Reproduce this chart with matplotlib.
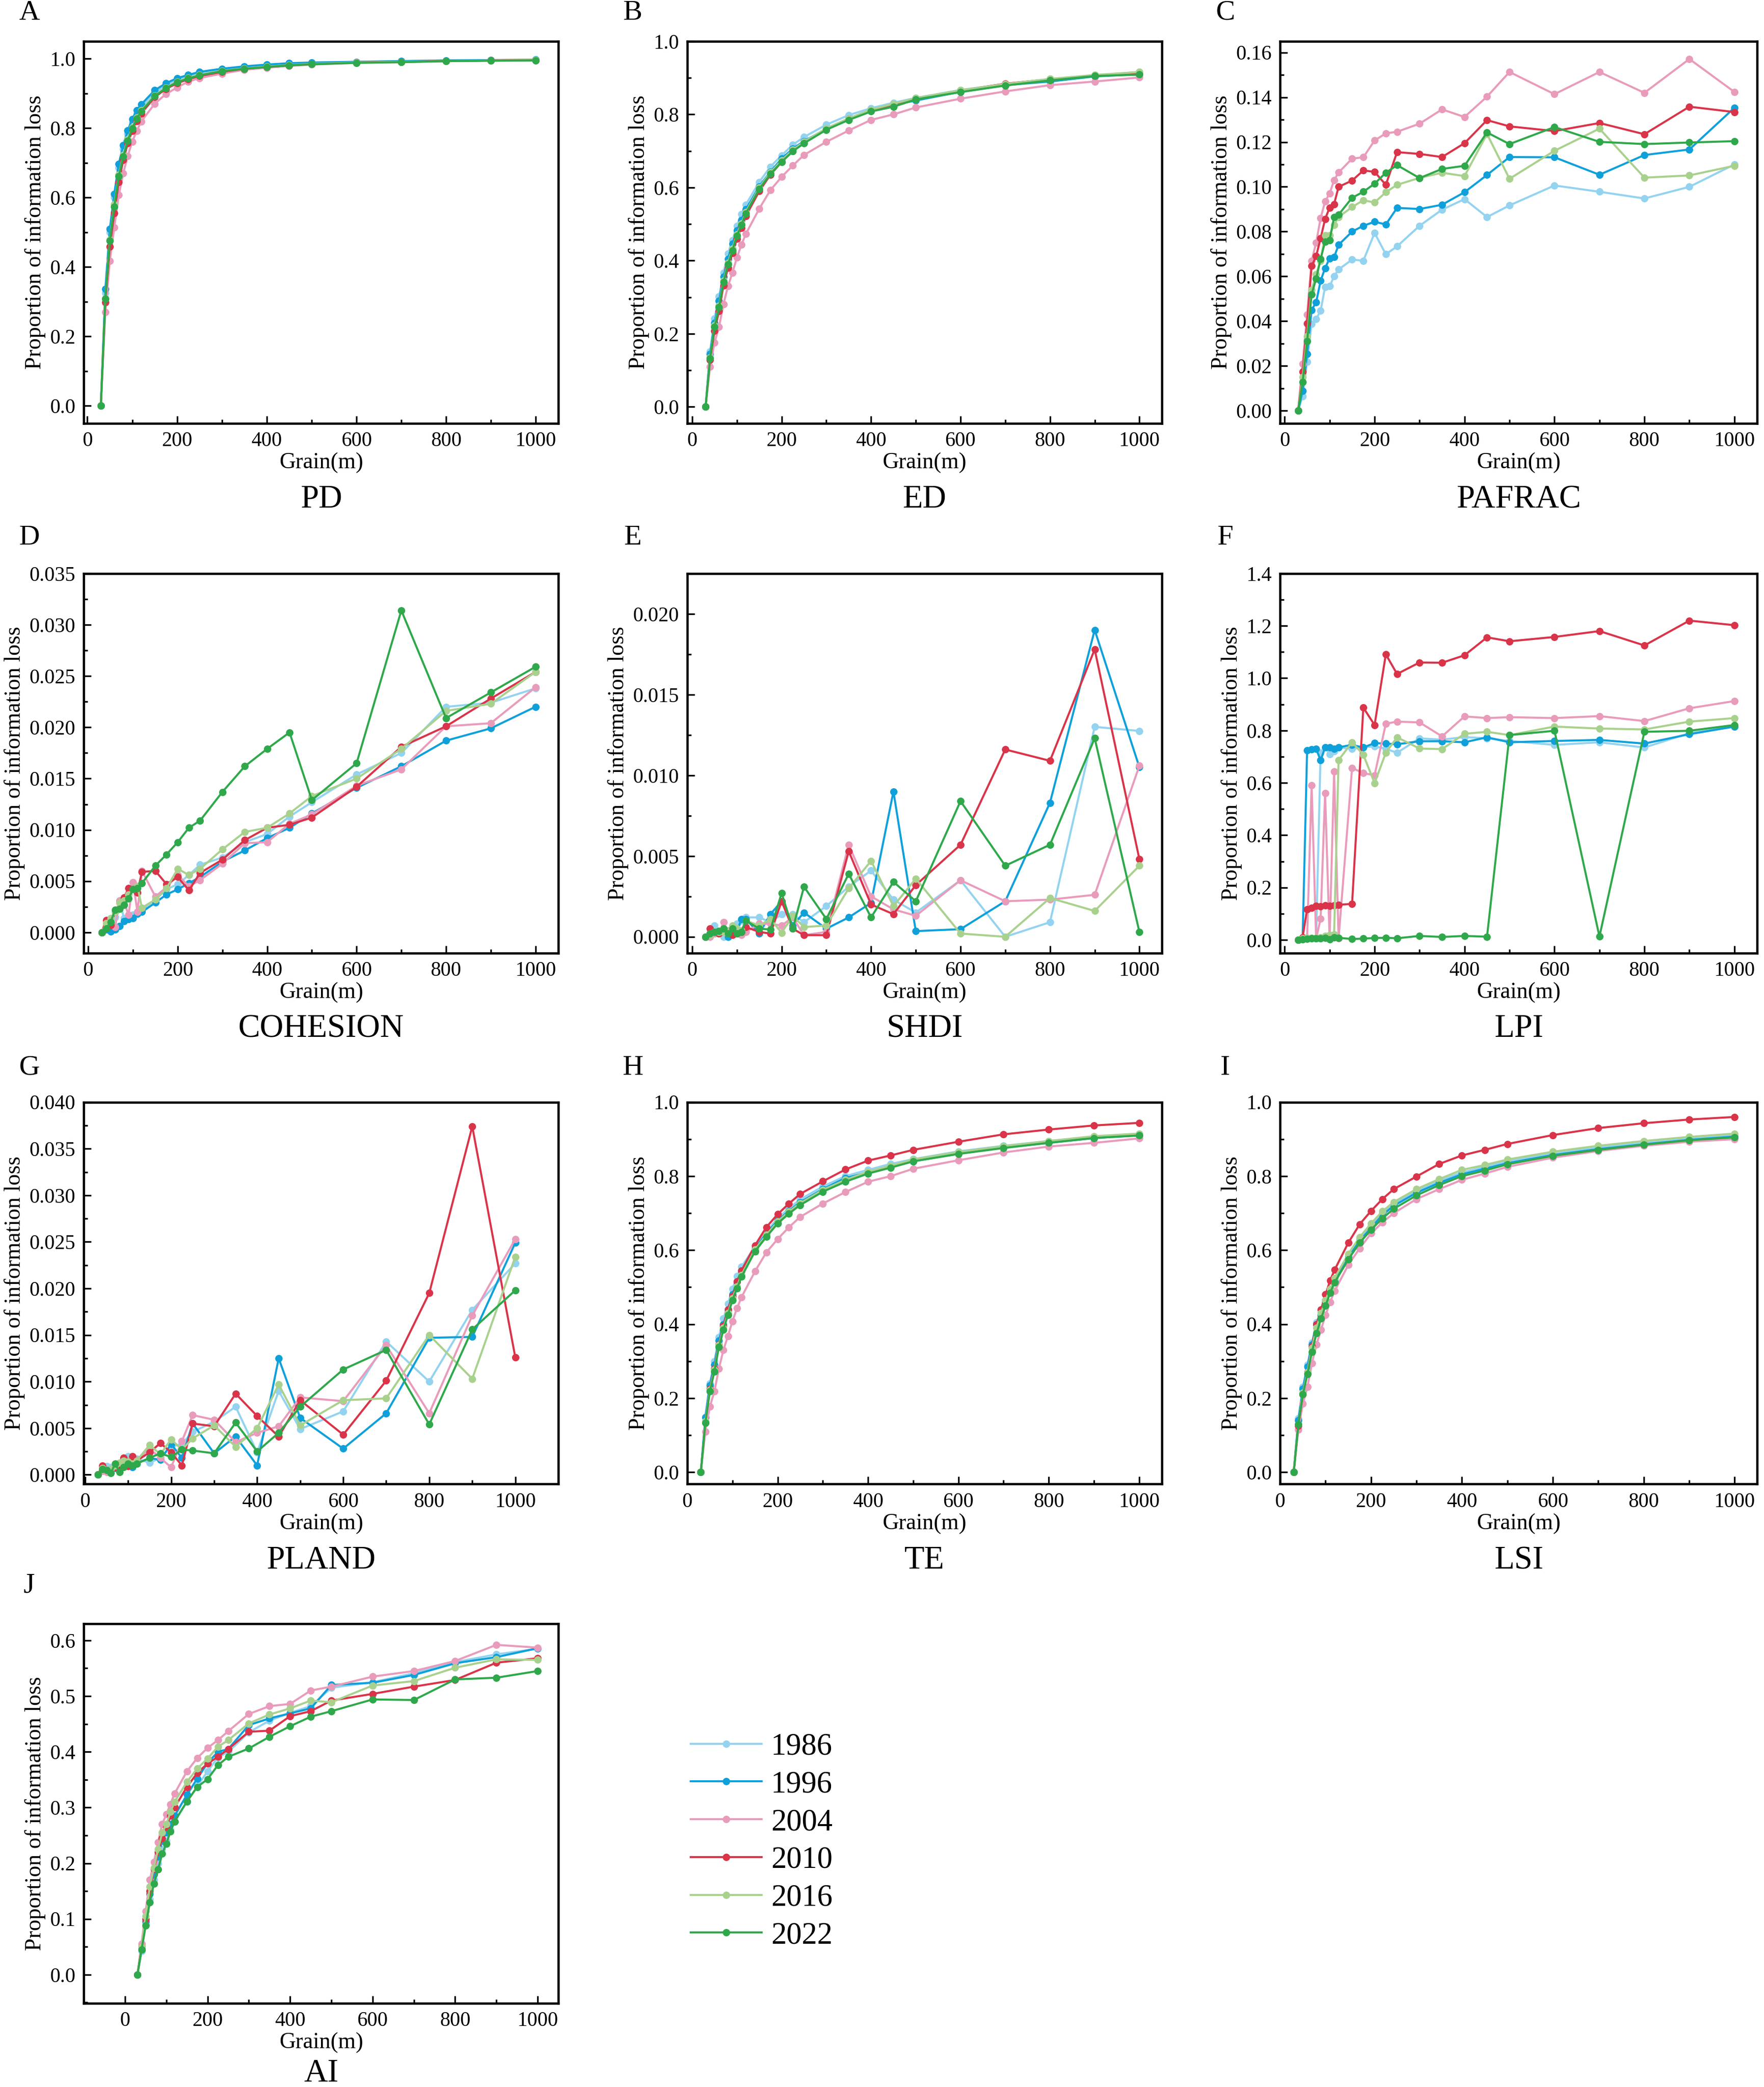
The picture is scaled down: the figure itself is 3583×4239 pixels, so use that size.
import matplotlib
matplotlib.use('Agg')
import matplotlib.pyplot as plt
from matplotlib.ticker import MultipleLocator, FormatStrFormatter

plt.rcParams['font.family'] = ['Liberation Serif', 'DejaVu Serif']

# grain sizes (m)
grain = [30, 40, 50, 60, 70, 80, 90, 100, 110, 120, 150, 175, 200, 225, 250,
         300, 350, 400, 450, 500, 600, 700, 800, 900, 1000]

years = ['1986', '1996', '2004', '2010', '2016', '2022']
colors = ['#93D3F0', '#0FA0DA', '#E99BBB', '#D93449', '#A9D18E', '#2FA84B']

# A  PD
pd_vals = {
    '1986': [0, 0.325, 0.50, 0.60, 0.685, 0.74, 0.783, 0.816, 0.842, 0.86, 0.902, 0.923, 0.939, 0.949, 0.958, 0.968, 0.976, 0.981, 0.985, 0.988, 0.991, 0.993, 0.995, 0.996, 0.997],
    '1996': [0, 0.336, 0.509, 0.611, 0.697, 0.751, 0.793, 0.826, 0.851, 0.868, 0.909, 0.929, 0.944, 0.953, 0.962, 0.971, 0.978, 0.983, 0.987, 0.989, 0.991, 0.993, 0.995, 0.996, 0.997],
    '2004': [0, 0.27, 0.417, 0.514, 0.607, 0.67, 0.72, 0.761, 0.792, 0.819, 0.87, 0.898, 0.917, 0.934, 0.944, 0.957, 0.968, 0.974, 0.979, 0.983, 0.988, 0.99, 0.993, 0.995, 0.996],
    '2010': [0, 0.298, 0.458, 0.555, 0.645, 0.708, 0.756, 0.792, 0.82, 0.842, 0.889, 0.913, 0.929, 0.941, 0.95, 0.962, 0.971, 0.976, 0.981, 0.984, 0.989, 0.991, 0.993, 0.995, 0.996],
    '2016': [0, 0.31, 0.478, 0.58, 0.665, 0.722, 0.768, 0.802, 0.83, 0.851, 0.894, 0.917, 0.934, 0.945, 0.954, 0.965, 0.972, 0.977, 0.982, 0.985, 0.989, 0.991, 0.993, 0.995, 0.996],
    '2022': [0, 0.308, 0.475, 0.574, 0.661, 0.718, 0.764, 0.799, 0.827, 0.848, 0.892, 0.915, 0.932, 0.943, 0.952, 0.964, 0.971, 0.976, 0.981, 0.984, 0.988, 0.99, 0.993, 0.994, 0.995],
}

# B  ED
ed_vals = {
    '1986': [0, 0.151, 0.242, 0.302, 0.367, 0.419, 0.456, 0.495, 0.527, 0.553, 0.615, 0.657, 0.688, 0.717, 0.738, 0.772, 0.798, 0.817, 0.832, 0.845, 0.867, 0.883, 0.897, 0.907, 0.916],
    '1996': [0, 0.145, 0.23, 0.29, 0.356, 0.405, 0.446, 0.482, 0.511, 0.54, 0.603, 0.643, 0.679, 0.706, 0.727, 0.76, 0.787, 0.81, 0.826, 0.838, 0.862, 0.88, 0.89, 0.904, 0.91],
    '2004': [0, 0.11, 0.176, 0.218, 0.281, 0.33, 0.367, 0.408, 0.443, 0.473, 0.542, 0.593, 0.629, 0.66, 0.689, 0.725, 0.756, 0.785, 0.8, 0.819, 0.843, 0.863, 0.88, 0.89, 0.901],
    '2010': [0, 0.128, 0.208, 0.262, 0.332, 0.38, 0.42, 0.46, 0.49, 0.522, 0.59, 0.635, 0.67, 0.7, 0.722, 0.759, 0.789, 0.811, 0.828, 0.843, 0.865, 0.884, 0.896, 0.906, 0.912],
    '2016': [0, 0.135, 0.222, 0.276, 0.345, 0.394, 0.433, 0.472, 0.501, 0.533, 0.6, 0.641, 0.674, 0.703, 0.725, 0.762, 0.789, 0.813, 0.829, 0.845, 0.866, 0.883, 0.897, 0.908, 0.916],
    '2022': [0, 0.133, 0.218, 0.272, 0.341, 0.389, 0.428, 0.468, 0.497, 0.529, 0.596, 0.637, 0.67, 0.699, 0.721, 0.758, 0.785, 0.808, 0.821, 0.841, 0.861, 0.879, 0.893, 0.905, 0.909],
}

# C  PAFRAC
pafrac_vals = {
    '1986': [0, 0.0065, 0.0219, 0.0388, 0.041, 0.0446, 0.0553, 0.0556, 0.060, 0.0631, 0.0675, 0.067, 0.0794, 0.0699, 0.0734, 0.0826, 0.0898, 0.0945, 0.0865, 0.0917, 0.1006, 0.0978, 0.0948, 0.100, 0.110],
    '1996': [0, 0.0088, 0.0253, 0.045, 0.0484, 0.058, 0.0637, 0.0681, 0.0686, 0.0741, 0.080, 0.0826, 0.0844, 0.0832, 0.0906, 0.0901, 0.092, 0.0976, 0.1053, 0.1133, 0.1132, 0.1054, 0.1142, 0.1167, 0.1353],
    '2004': [0, 0.021, 0.043, 0.067, 0.075, 0.086, 0.0935, 0.097, 0.103, 0.1064, 0.1126, 0.1132, 0.1207, 0.1239, 0.1246, 0.1282, 0.1346, 0.1312, 0.1403, 0.1513, 0.1414, 0.1513, 0.1420, 0.1571, 0.1424],
    '2010': [0, 0.0175, 0.039, 0.0646, 0.069, 0.077, 0.0856, 0.0907, 0.0923, 0.100, 0.1028, 0.1073, 0.1067, 0.1009, 0.1155, 0.1147, 0.1133, 0.1195, 0.1298, 0.1270, 0.1249, 0.1285, 0.1235, 0.1358, 0.1334],
    '2016': [0, 0.015, 0.0333, 0.054, 0.061, 0.067, 0.0784, 0.0784, 0.083, 0.0865, 0.091, 0.094, 0.093, 0.0976, 0.1009, 0.104, 0.1063, 0.1048, 0.1236, 0.1036, 0.1161, 0.126, 0.1041, 0.1051, 0.1094],
    '2022': [0, 0.0128, 0.031, 0.052, 0.0589, 0.0678, 0.0755, 0.0762, 0.0865, 0.0876, 0.0951, 0.0978, 0.1014, 0.1063, 0.1097, 0.1039, 0.108, 0.1094, 0.1243, 0.1191, 0.1267, 0.1201, 0.1191, 0.1198, 0.1204],
}

# D  COHESION
cohesion_vals = {
    '1986': [0, 0.0008, 0.0012, 0.0015, 0.003, 0.0014, 0.0014, 0.0017, 0.0018, 0.0022, 0.0032, 0.0042, 0.0047, 0.0056, 0.0066, 0.0073, 0.0088, 0.0096, 0.0113, 0.0127, 0.0154, 0.0175, 0.022, 0.0224, 0.0238],
    '1996': [0, 0.0003, 0.0001, 0.0003, 0.0006, 0.0011, 0.0013, 0.0014, 0.0018, 0.002, 0.0029, 0.0037, 0.0042, 0.0048, 0.0054, 0.0069, 0.008, 0.0092, 0.0102, 0.0116, 0.0141, 0.0162, 0.0187, 0.0199, 0.022],
    '2004': [0, 0.0008, 0.0008, 0.0005, 0.0031, 0.003, 0.0017, 0.0049, 0.002, 0.006, 0.0035, 0.0044, 0.0056, 0.0045, 0.0051, 0.0067, 0.0087, 0.0088, 0.0106, 0.0115, 0.0143, 0.0159, 0.0201, 0.0204, 0.0239],
    '2010': [0, 0.0012, 0.0007, 0.002, 0.0029, 0.0034, 0.0043, 0.0042, 0.0039, 0.0059, 0.006, 0.0047, 0.0054, 0.0041, 0.0058, 0.0071, 0.009, 0.0102, 0.0105, 0.0112, 0.0142, 0.0181, 0.0201, 0.0228, 0.0254],
    '2016': [0, 0.0009, 0.0014, 0.002, 0.0029, 0.0031, 0.0037, 0.0042, 0.0045, 0.0024, 0.0032, 0.0043, 0.0062, 0.0056, 0.0062, 0.0081, 0.0098, 0.0102, 0.0116, 0.0133, 0.015, 0.0179, 0.0216, 0.0223, 0.0254],
    '2022': [0, 0.0004, 0.001, 0.0022, 0.0023, 0.0027, 0.0033, 0.0042, 0.0043, 0.0048, 0.0065, 0.0076, 0.0088, 0.0102, 0.0109, 0.0137, 0.0162, 0.0179, 0.0195, 0.0129, 0.0165, 0.0314, 0.0209, 0.0234, 0.0259],
}

# E  SHDI
shdi_vals = {
    '1986': [0, 0.0002, 0.0007, 0.0003, 0.0, 0.0001, 0.0005, 0.0008, 0.001, 0.0012, 0.0012, 0.0009, 0.0014, 0.0014, 0.0009, 0.0019, 0.0031, 0.0041, 0.0023, 0.0015, 0.0035, 0.0, 0.0009, 0.013, 0.01275],
    '1996': [0, 0.0001, 0.0002, 0.0002, 0.0003, 0.0, 0.0003, 0.0003, 0.0011, 0.0011, 0.0002, 0.0014, 0.0022, 0.0007, 0.0015, 0.0005, 0.0012, 0.0021, 0.009, 0.00035, 0.00047, 0.0022, 0.0083, 0.019, 0.0105],
    '2004': [0, 0.0, 0.0002, 0.0002, 0.0009, 0.0002, 0.0002, 0.0002, 0.0001, 0.0003, 0.0008, 0.0008, 0.0007, 0.0012, 0.0001, 0.0003, 0.0057, 0.0025, 0.0017, 0.0013, 0.0035, 0.0022, 0.0023, 0.0026, 0.0106],
    '2010': [0, 0.0005, 0.0003, 0.0002, 0.0003, 0.0003, 0.0001, 0.0002, 0.0003, 0.0006, 0.0003, 0.0002, 0.0022, 0.0005, 0.0001, 0.0001, 0.0053, 0.002, 0.0014, 0.0032, 0.0057, 0.0116, 0.0109, 0.0178, 0.0048],
    '2016': [0, 0.0001, 0.0003, 0.0003, 0.0003, 0.0004, 0.0007, 0.0005, 0.0004, 0.001, 0.0007, 0.0011, 0.00025, 0.0013, 0.0006, 0.0007, 0.003, 0.0047, 0.0019, 0.0036, 0.0002, 0.0, 0.0024, 0.0016, 0.0044],
    '2022': [0, 0.0002, 0.0003, 0.00035, 0.0005, 0.0002, 0.0005, 0.0002, 0.0003, 0.001, 0.0005, 0.00045, 0.0027, 0.0005, 0.0031, 0.0011, 0.0039, 0.0012, 0.0034, 0.0022, 0.0084, 0.0044, 0.0057, 0.0123, 0.0003],
}

# F  LPI
lpi_vals = {
    '1986': [0, 0.005, 0.005, 0.005, 0.005, 0.715, 0.735, 0.71, 0.72, 0.735, 0.73, 0.735, 0.74, 0.73, 0.715, 0.77, 0.765, 0.775, 0.77, 0.76, 0.745, 0.755, 0.735, 0.79, 0.815],
    '1996': [0, 0.005, 0.725, 0.729, 0.73, 0.686, 0.735, 0.735, 0.73, 0.736, 0.745, 0.735, 0.752, 0.75, 0.7475, 0.759, 0.759, 0.755, 0.774, 0.755, 0.76, 0.764, 0.75, 0.786, 0.815],
    '2004': [0, 0.005, 0.005, 0.59, 0.005, 0.08, 0.56, 0.005, 0.643, 0.005, 0.657, 0.637, 0.629, 0.826, 0.834, 0.831, 0.7775, 0.854, 0.8475, 0.851, 0.8475, 0.855, 0.836, 0.885, 0.9125],
    '2010': [0, 0.01, 0.1175, 0.1225, 0.13, 0.1275, 0.131, 0.13, 0.1325, 0.134, 0.1375, 0.8875, 0.821, 1.091, 1.016, 1.06, 1.059, 1.0875, 1.156, 1.141, 1.1575, 1.18, 1.125, 1.22, 1.2025],
    '2016': [0, 0.005, 0.007, 0.008, 0.008, 0.01, 0.015, 0.018, 0.02, 0.6875, 0.755, 0.7075, 0.599, 0.715, 0.774, 0.731, 0.729, 0.7875, 0.795, 0.7825, 0.815, 0.8075, 0.804, 0.834, 0.8475],
    '2022': [0, 0.001, 0.003, 0.005, 0.005, 0.005, 0.007, 0.002, 0.009, 0.008, 0.003, 0.005, 0.007, 0.008, 0.006, 0.015, 0.011, 0.015, 0.012, 0.7825, 0.799, 0.0125, 0.795, 0.799, 0.821],
}

# G  PLAND
pland_vals = {
    '1986': [0, 0.0007, 0.0009, 0.0008, 0.001, 0.0012, 0.0013, 0.002, 0.0019, 0.0017, 0.0013, 0.0018, 0.003, 0.0033, 0.0046, 0.0057, 0.0073, 0.0024, 0.009, 0.0049, 0.0068, 0.0143, 0.01, 0.0177, 0.0227],
    '1996': [0, 0.0005, 0.0004, 0.0006, 0.0007, 0.0006, 0.0009, 0.0012, 0.0008, 0.0012, 0.0018, 0.0016, 0.0033, 0.0018, 0.0055, 0.0023, 0.0041, 0.001, 0.0125, 0.0061, 0.0028, 0.0066, 0.0147, 0.0148, 0.0249],
    '2004': [0, 0.0004, 0.0003, 0.0005, 0.0008, 0.0012, 0.0011, 0.0015, 0.0013, 0.0016, 0.0028, 0.0018, 0.0008, 0.0036, 0.0064, 0.0059, 0.0035, 0.0045, 0.0052, 0.0083, 0.0079, 0.0139, 0.0066, 0.0171, 0.0253],
    '2010': [0, 0.001, 0.0005, 0.0005, 0.0008, 0.0008, 0.0018, 0.0009, 0.002, 0.0015, 0.0024, 0.0034, 0.0024, 0.001, 0.0055, 0.0052, 0.0087, 0.0063, 0.0041, 0.008, 0.0043, 0.0101, 0.0195, 0.0374, 0.0126],
    '2016': [0, 0.0007, 0.0005, 0.0006, 0.001, 0.0013, 0.0015, 0.0014, 0.0012, 0.0015, 0.0032, 0.0022, 0.0038, 0.0027, 0.0039, 0.0053, 0.003, 0.005, 0.0097, 0.0053, 0.008, 0.0082, 0.015, 0.0103, 0.0234],
    '2022': [0, 0.0006, 0.0005, 0.0002, 0.0012, 0.0003, 0.0008, 0.0012, 0.001, 0.0012, 0.0018, 0.0023, 0.0019, 0.0027, 0.0026, 0.0023, 0.0056, 0.0025, 0.0045, 0.0073, 0.0113, 0.0134, 0.0054, 0.0156, 0.0198],
}

# H  TE
te_vals = {
    '1986': [0, 0.15, 0.24, 0.30, 0.365, 0.415, 0.455, 0.495, 0.53, 0.555, 0.61, 0.65, 0.686, 0.713, 0.737, 0.772, 0.80, 0.817, 0.833, 0.846, 0.867, 0.882, 0.895, 0.906, 0.915],
    '1996': [0, 0.148, 0.235, 0.29, 0.355, 0.40, 0.44, 0.48, 0.515, 0.545, 0.605, 0.645, 0.68, 0.706, 0.73, 0.765, 0.795, 0.81, 0.826, 0.84, 0.862, 0.877, 0.89, 0.903, 0.91],
    '2004': [0, 0.11, 0.177, 0.218, 0.28, 0.33, 0.368, 0.408, 0.443, 0.473, 0.543, 0.594, 0.63, 0.662, 0.69, 0.726, 0.757, 0.785, 0.80, 0.82, 0.843, 0.864, 0.88, 0.89, 0.902],
    '2010': [0, 0.135, 0.225, 0.28, 0.345, 0.395, 0.44, 0.475, 0.515, 0.545, 0.613, 0.662, 0.697, 0.726, 0.752, 0.786, 0.818, 0.842, 0.856, 0.871, 0.893, 0.913, 0.926, 0.937, 0.944],
    '2016': [0, 0.137, 0.223, 0.277, 0.343, 0.39, 0.43, 0.47, 0.502, 0.533, 0.602, 0.641, 0.677, 0.704, 0.727, 0.763, 0.79, 0.812, 0.828, 0.845, 0.865, 0.881, 0.895, 0.908, 0.915],
    '2022': [0, 0.133, 0.218, 0.272, 0.338, 0.385, 0.425, 0.465, 0.497, 0.528, 0.597, 0.636, 0.672, 0.699, 0.722, 0.758, 0.785, 0.807, 0.823, 0.84, 0.86, 0.876, 0.89, 0.903, 0.91],
}

# I  LSI
lsi_vals = {
    '1986': [0, 0.145, 0.23, 0.29, 0.35, 0.405, 0.43, 0.465, 0.495, 0.52, 0.585, 0.63, 0.666, 0.70, 0.725, 0.76, 0.787, 0.81, 0.825, 0.84, 0.861, 0.877, 0.89, 0.901, 0.91],
    '1996': [0, 0.14, 0.225, 0.285, 0.345, 0.40, 0.425, 0.46, 0.49, 0.515, 0.58, 0.625, 0.66, 0.695, 0.72, 0.755, 0.782, 0.805, 0.82, 0.835, 0.857, 0.873, 0.886, 0.898, 0.907],
    '2004': [0, 0.115, 0.185, 0.23, 0.295, 0.345, 0.385, 0.425, 0.46, 0.49, 0.56, 0.605, 0.645, 0.675, 0.70, 0.738, 0.765, 0.79, 0.807, 0.825, 0.85, 0.868, 0.882, 0.893, 0.90],
    '2010': [0, 0.125, 0.21, 0.27, 0.34, 0.40, 0.44, 0.48, 0.518, 0.547, 0.62, 0.67, 0.706, 0.738, 0.765, 0.799, 0.833, 0.856, 0.871, 0.887, 0.911, 0.93, 0.943, 0.953, 0.96],
    '2016': [0, 0.13, 0.215, 0.27, 0.335, 0.39, 0.43, 0.465, 0.495, 0.525, 0.59, 0.635, 0.672, 0.705, 0.73, 0.765, 0.792, 0.817, 0.83, 0.845, 0.866, 0.882, 0.895, 0.906, 0.915],
    '2022': [0, 0.13, 0.21, 0.265, 0.325, 0.375, 0.415, 0.45, 0.485, 0.513, 0.575, 0.62, 0.655, 0.686, 0.712, 0.748, 0.776, 0.80, 0.815, 0.832, 0.855, 0.871, 0.885, 0.897, 0.905],
}

# J  AI
ai_vals = {
    '1986': [0, 0.042, 0.09, 0.135, 0.17, 0.20, 0.225, 0.24, 0.26, 0.275, 0.31, 0.338, 0.365, 0.39, 0.40, 0.435, 0.456, 0.47, 0.482, 0.515, 0.525, 0.541, 0.561, 0.575, 0.585],
    '1996': [0, 0.045, 0.095, 0.145, 0.18, 0.212, 0.24, 0.255, 0.27, 0.285, 0.323, 0.352, 0.38, 0.40, 0.405, 0.448, 0.46, 0.469, 0.478, 0.52, 0.524, 0.538, 0.559, 0.57, 0.586],
    '2004': [0, 0.056, 0.114, 0.17, 0.202, 0.238, 0.27, 0.288, 0.306, 0.325, 0.365, 0.389, 0.407, 0.421, 0.437, 0.468, 0.482, 0.486, 0.51, 0.517, 0.535, 0.545, 0.563, 0.592, 0.587],
    '2010': [0, 0.05, 0.10, 0.15, 0.19, 0.22, 0.245, 0.265, 0.285, 0.30, 0.337, 0.362, 0.379, 0.391, 0.405, 0.436, 0.438, 0.464, 0.473, 0.492, 0.504, 0.517, 0.529, 0.56, 0.568],
    '2016': [0, 0.05, 0.105, 0.158, 0.192, 0.225, 0.255, 0.27, 0.292, 0.31, 0.346, 0.37, 0.388, 0.409, 0.421, 0.451, 0.467, 0.478, 0.492, 0.489, 0.519, 0.527, 0.551, 0.566, 0.565],
    '2022': [0, 0.045, 0.088, 0.13, 0.163, 0.189, 0.217, 0.235, 0.257, 0.275, 0.311, 0.337, 0.351, 0.376, 0.391, 0.406, 0.427, 0.446, 0.463, 0.473, 0.494, 0.493, 0.53, 0.533, 0.545],
}

# panel letter, title, data, ylim, y major, y minor, tick format, xlim
panels = [
    ('A', 'PD', pd_vals, (-0.05, 1.05), 0.2, 0.1, '%.1f', (-8, 1050)),
    ('B', 'ED', ed_vals, (-0.045, 1.0), 0.2, 0.1, '%.1f', (-11, 1050)),
    ('C', 'PAFRAC', pafrac_vals, (-0.0056, 0.165), 0.02, 0.01, '%.2f', (-10, 1051)),
    ('D', 'COHESION', cohesion_vals, (-0.002, 0.035), 0.005, 0.0025, '%.3f', (-10, 1051)),
    ('E', 'SHDI', shdi_vals, (-0.001, 0.0225), 0.005, 0.0025, '%.3f', (-11, 1050)),
    ('F', 'LPI', lpi_vals, (-0.05, 1.4), 0.2, 0.1, '%.1f', (-10, 1051)),
    ('G', 'PLAND', pland_vals, (-0.001, 0.040), 0.005, 0.0025, '%.3f', (-3, 1100)),
    ('H', 'TE', te_vals, (-0.032, 1.0), 0.2, 0.1, '%.1f', (0, 1050)),
    ('I', 'LSI', lsi_vals, (-0.032, 1.0), 0.2, 0.1, '%.1f', (0, 1050)),
    ('J', 'AI', ai_vals, (-0.051, 0.63), 0.1, 0.05, '%.1f', (-100, 1050)),
]

# axes boxes in figure fractions (left, bottom, width, height)
col_left = [0.0475, 0.3896, 0.7257]
col_w = [0.269, 0.269, 0.2705]
row_bottom = [0.7972, 0.5434, 0.2889, 0.0402]
row_h = [0.1830, 0.1818, 0.1830, 0.1818]
letter_y = [1.075, 1.095, 1.09, 1.1]

fig = plt.figure(figsize=(3583 / 300, 4239 / 300), dpi=300)

lines = []
for i, (letter, title, vals, ylim, ymaj, ymin, fmt, xlim) in enumerate(panels):
    r, c = divmod(i, 3)
    ax = fig.add_axes([col_left[c], row_bottom[r], col_w[c], row_h[r]])
    for year, col in zip(years, colors):
        ln, = ax.plot(grain, vals[year], color=col, lw=1.0, marker='o',
                      ms=2.6, mec=col, mfc=col, label=year)
        if i == 0:
            lines.append(ln)
    ax.set_xlim(*xlim)
    ax.set_ylim(*ylim)
    ax.xaxis.set_major_locator(MultipleLocator(200))
    ax.xaxis.set_minor_locator(MultipleLocator(100))
    ax.yaxis.set_major_locator(MultipleLocator(ymaj))
    ax.yaxis.set_minor_locator(MultipleLocator(ymin))
    ax.yaxis.set_major_formatter(FormatStrFormatter(fmt))
    ax.tick_params(which='both', direction='in', top=False, right=False,
                   labelsize=10, width=0.8)
    ax.tick_params(which='major', length=3.5, pad=4)
    ax.tick_params(which='minor', length=2)
    for sp in ax.spines.values():
        sp.set_linewidth(1.1)
    ax.set_xlabel('Grain(m)', fontsize=11, labelpad=1)
    ax.set_ylabel('Proportion of information loss', fontsize=11, labelpad=2)
    ty = -0.185 if letter == 'J' else -0.2
    ax.text(0.5, ty, title, transform=ax.transAxes, ha='center', va='center',
            fontsize=16)
    ax.text(-0.115, letter_y[r], letter, transform=ax.transAxes, ha='center',
            va='center', fontsize=14)

fig.legend(handles=lines, labels=years, loc='upper left',
           bbox_to_anchor=(0.376, 0.183), frameon=False, fontsize=15,
           handlelength=2.3, handletextpad=0.3, labelspacing=0.3)

fig.savefig('out.png', dpi=300)
